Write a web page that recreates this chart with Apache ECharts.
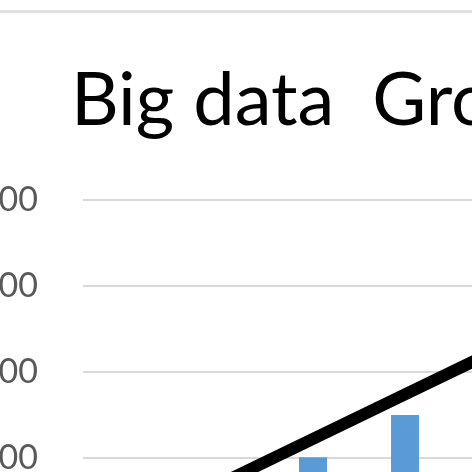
<!DOCTYPE html>
<html>
<head>
<meta charset="utf-8">
<script src="https://cdn.jsdelivr.net/npm/echarts@6/dist/echarts.min.js"></script>
<style>
html,body{margin:0;padding:0;background:#fff;overflow:hidden;width:472px;height:472px;position:relative;}
#chart{position:absolute;left:-100px;top:0;width:800px;height:700px;}
</style>
</head>
<body>
<div id="chart"></div>
<script>
const titleText = "Big data  Growth";
const categories = ["2010", "2011", "2012", "2013", "2014", "2015"];
const barValues = [150, 300, 505, 750, 1000, 1300];
const trendValues = [94, 352, 611, 870, 1128, 1387];
const yTicks = [0, 500, 1000, 1500, 2000];

const chart = echarts.init(document.getElementById('chart'));
chart.setOption({
  animation: false,
  backgroundColor: '#ffffff',
  title: {
    text: titleText,
    left: 166,
    top: 59,
    textStyle: { fontFamily: 'Lato', fontWeight: 'normal', fontSize: 74, color: '#000000' }
  },
  graphic: [{
    type: 'rect',
    shape: { x: 0, y: 10, width: 800, height: 3 },
    style: { fill: '#e1e1e1' },
    silent: true
  }],
  grid: { left: 183, top: 200, right: 65, bottom: 156, containLabel: false },
  xAxis: {
    type: 'category',
    data: categories,
    axisLine: { show: false },
    axisTick: { show: false },
    axisLabel: { show: false }
  },
  yAxis: {
    type: 'value',
    min: yTicks[0],
    max: yTicks[yTicks.length - 1],
    interval: yTicks[1] - yTicks[0],
    axisLine: { show: false },
    axisTick: { show: false },
    axisLabel: { margin: 45, color: '#595959', fontFamily: 'Lato', fontSize: 34, formatter: v => String(v) },
    splitLine: { lineStyle: { color: '#d9d9d9', width: 2 } }
  },
  series: [
    {
      type: 'bar',
      data: barValues,
      barWidth: 28,
      itemStyle: { color: '#5b9bd5' }
    },
    {
      type: 'line',
      data: trendValues,
      symbol: 'none',
      lineStyle: { color: '#000000', width: 12 }
    }
  ]
});
</script>
</body>
</html>
